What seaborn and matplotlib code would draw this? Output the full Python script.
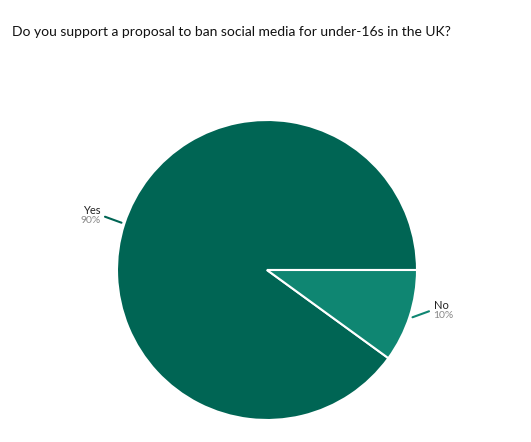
import matplotlib.pyplot as plt
import seaborn as sns
import numpy as np

labels = ["Yes", "No"]
values = [90, 10]
colors = ["#006554", "#0f8672"]

sns.set_theme(style="white")
plt.rcParams['font.family'] = ['Lato', 'DejaVu Sans']

fig = plt.figure(figsize=(5.31, 4.42), dpi=100)
fig.text(12 / 531, 1 - 32 / 442, "Do you support a proposal to ban social media for under-16s in the UK?",
         ha="left", va="center", fontsize=10, color="#111111")

ax = fig.add_axes([(267 - 150) / 531, (442 - 270 - 150) / 442, 300 / 531, 300 / 442])
wedges, _ = ax.pie(values, colors=colors, startangle=0, counterclock=True,
                   wedgeprops=dict(edgecolor="white", linewidth=1.5))
ax.set_xlim(-1, 1)
ax.set_ylim(-1, 1)
ax.set_aspect("equal")
ax.axis("off")

for w, lab, v in zip(wedges, labels, values):
    mid = np.deg2rad((w.theta1 + w.theta2) / 2)
    x, y = np.cos(mid), np.sin(mid)
    side = 1 if x > 0 else -1
    x1, y1 = 1.02 * x, 1.02 * y
    x2, y2 = x1 + side * 0.11, y1 + 0.04
    ax.plot([x1, x2], [y1, y2], color=w.get_facecolor(), lw=1.5, clip_on=False)
    ha = "left" if side > 0 else "right"
    tx = x2 + side * 0.03
    ax.text(tx, y2 + 0.005, lab, ha=ha, va="bottom", fontsize=8, color="#222222")
    ax.text(tx, y2 + 0.005, f"{v}%", ha=ha, va="top", fontsize=7.5, color="#888888")

fig.savefig("out.png", dpi=100)
